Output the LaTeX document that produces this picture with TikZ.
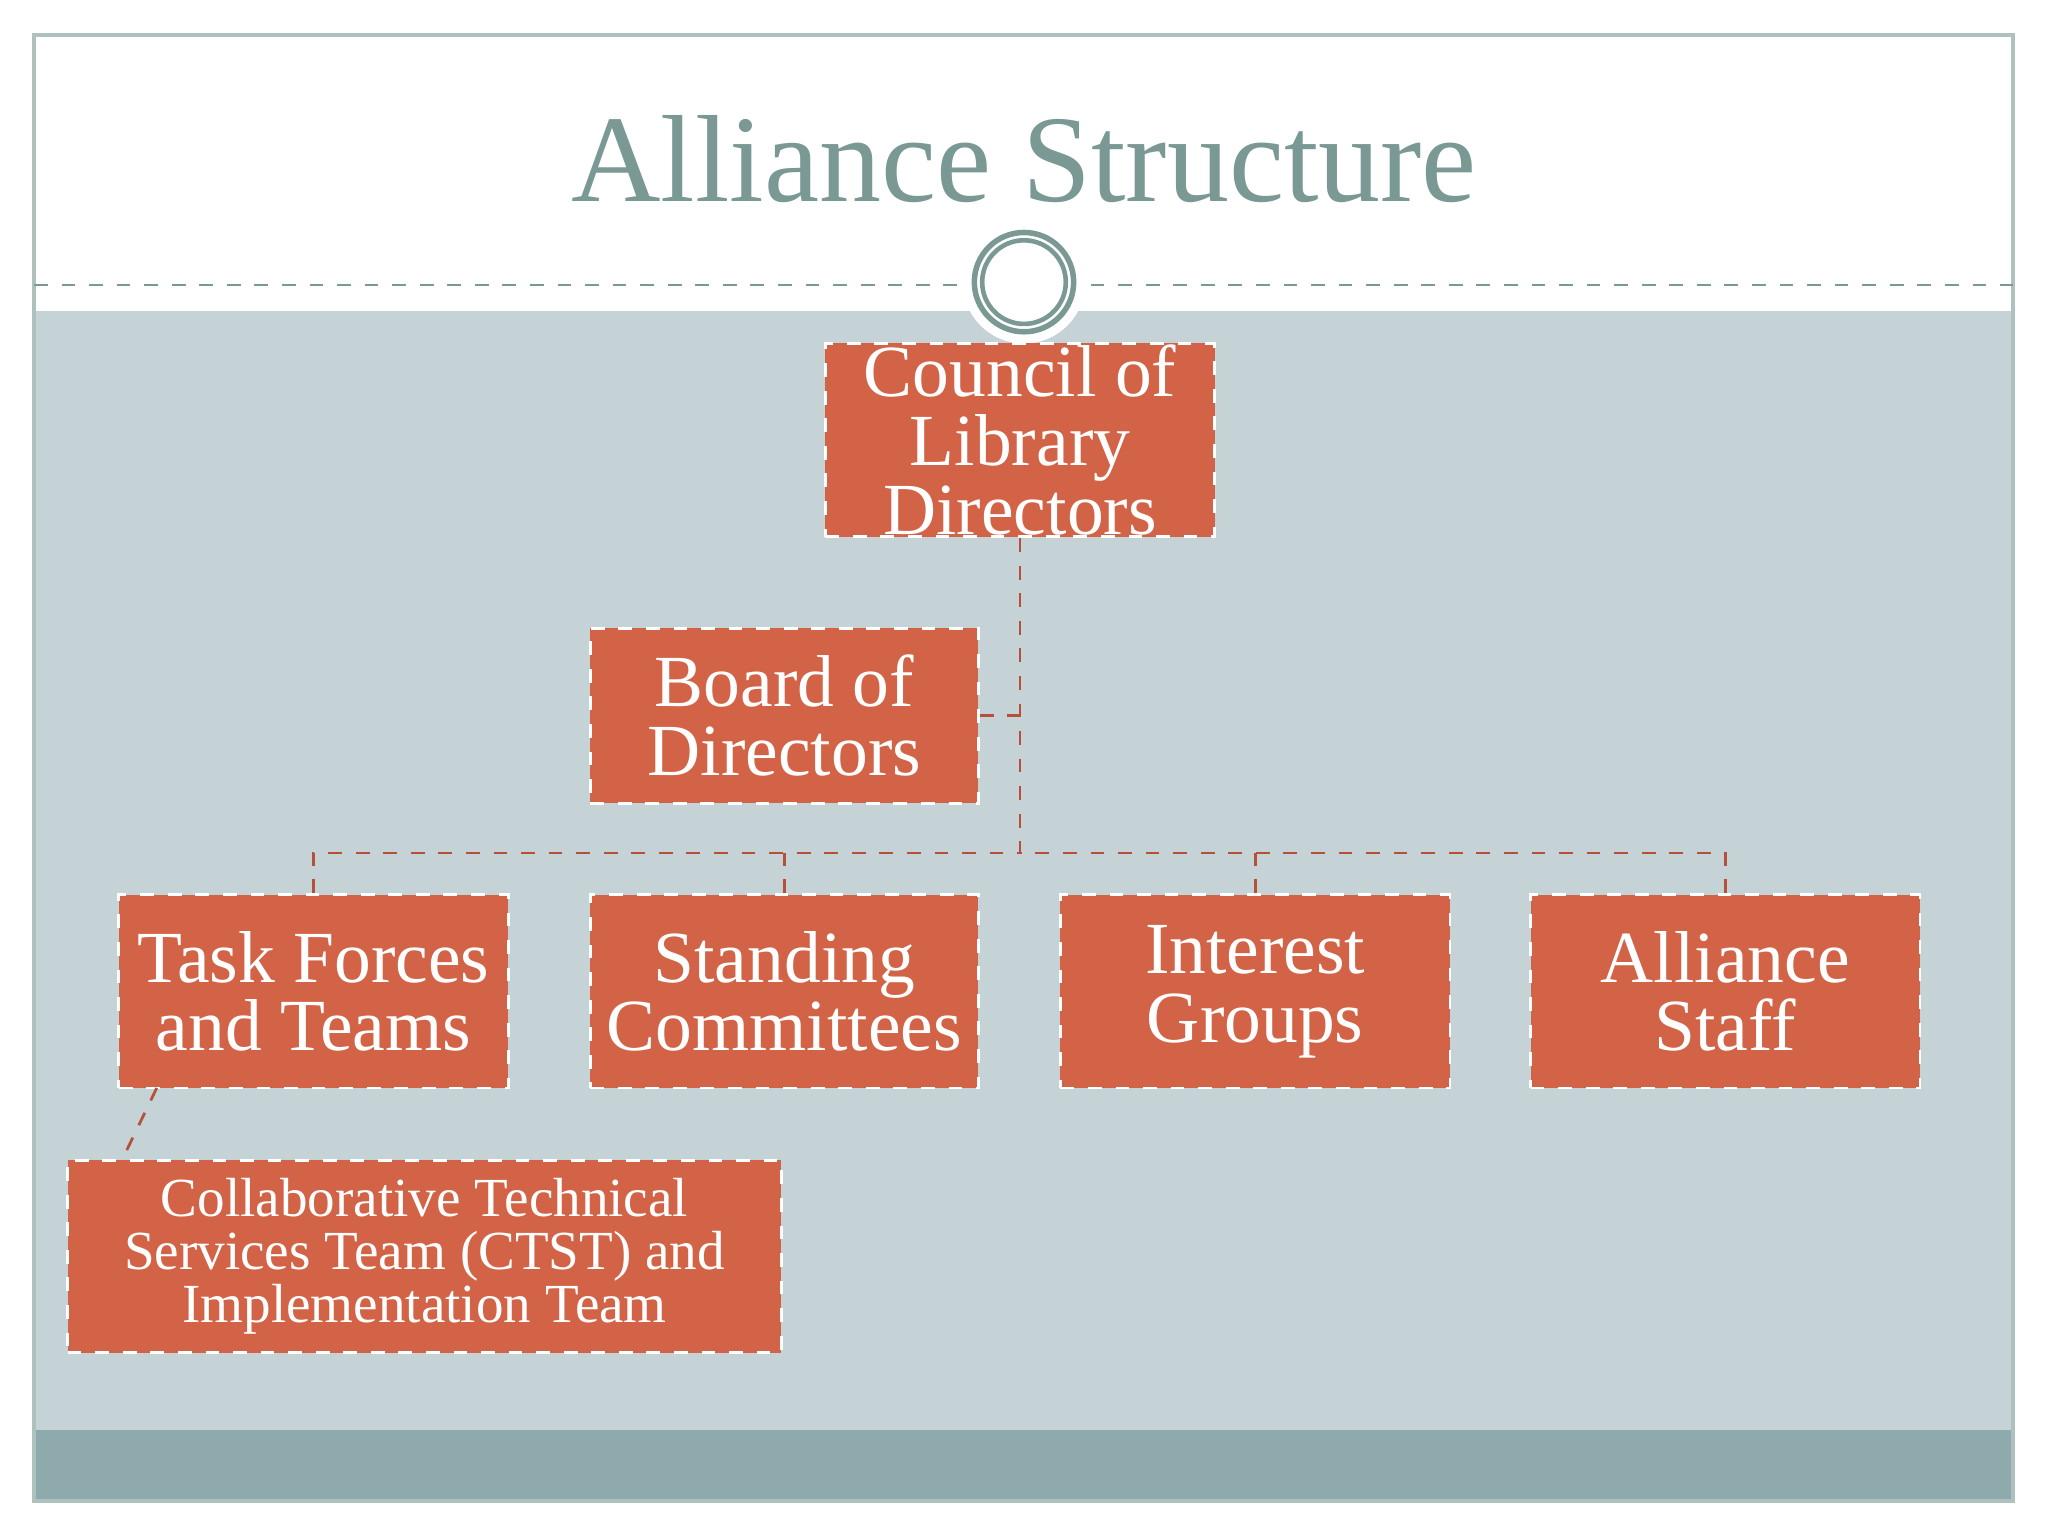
\documentclass[tikz,border=0pt]{standalone}
\usepackage{fontspec}
\setmainfont{Liberation Serif}
\begin{document}
\begin{tikzpicture}[x=0.01cm,y=-0.01cm,
  box/.style={draw=white,dashed,line width=0.6pt,fill=boxc,text=white,inner sep=0pt,align=center,font=\fontsize{16}{15}\selectfont},
  conn/.style={draw=linec,dashed,line width=0.6pt}]
\definecolor{boxc}{HTML}{D26346}
\definecolor{bodyc}{HTML}{C5D2D6}
\definecolor{footc}{HTML}{8FAAAC}
\definecolor{titc}{HTML}{7A9894}
\definecolor{linec}{HTML}{B5503A}
\useasboundingbox (0,0) rectangle (1568,1176);
\fill[white] (0,0) rectangle (1568,1176);
\fill[bodyc] (26,238) rectangle (1541,1095);
\fill[footc] (26,1095) rectangle (1541,1149);
\draw[titc!60,line width=0.8pt] (26,27) rectangle (1541,1149);
\draw[titc,dashed,line width=0.5pt] (26,218) -- (735,218);
\draw[titc,dashed,line width=0.5pt] (835,218) -- (1541,218);
\fill[white] (784,216) circle (0.47cm);
\draw[titc,line width=1.2pt] (784,216) circle (0.38cm);
\draw[titc,line width=1pt] (784,216) circle (0.32cm);
\node[text=titc,font=\fontsize{27}{28}\selectfont] (title) at (784,122) {Alliance Structure};
\node[box,minimum width=2.98cm,minimum height=1.48cm] (council) at (781,337) {Council of\\Library\\Directors};
\node[box,minimum width=2.97cm,minimum height=1.34cm] (board) at (600.5,548) {Board of\\Directors};
\node[box,minimum width=2.98cm,minimum height=1.48cm] (task) at (240,759) {Task Forces\\and Teams};
\node[box,minimum width=2.97cm,minimum height=1.48cm] (stand) at (600.5,759) {Standing\\Committees};
\node[box,minimum width=2.98cm,minimum height=1.48cm] (inter) at (961,759) {Interest\\Groups};
\node[box,minimum width=2.98cm,minimum height=1.48cm] (staff) at (1321,759) {Alliance\\Staff};
\node[box,minimum width=5.46cm,minimum height=1.47cm,font=\fontsize{12}{11.5}\selectfont] (ctst) at (325,962) {Collaborative Technical\\Services Team (CTST) and\\Implementation Team};
\coordinate (hub) at (781,653);
\coordinate (bj) at (781,548);
\draw[conn] (council.south) -- (hub);
\draw[conn] (board.east) -- (bj);
\draw[conn] (task.north) |- (hub);
\draw[conn] (staff.north) |- (hub);
\draw[conn] (stand.north) -- (stand.north |- hub);
\draw[conn] (inter.north) -- (inter.north |- hub);
\coordinate (ta) at (120,833);
\coordinate (cb) at (93,889);
\draw[conn] (ta) -- (cb);
\end{tikzpicture}
\end{document}
